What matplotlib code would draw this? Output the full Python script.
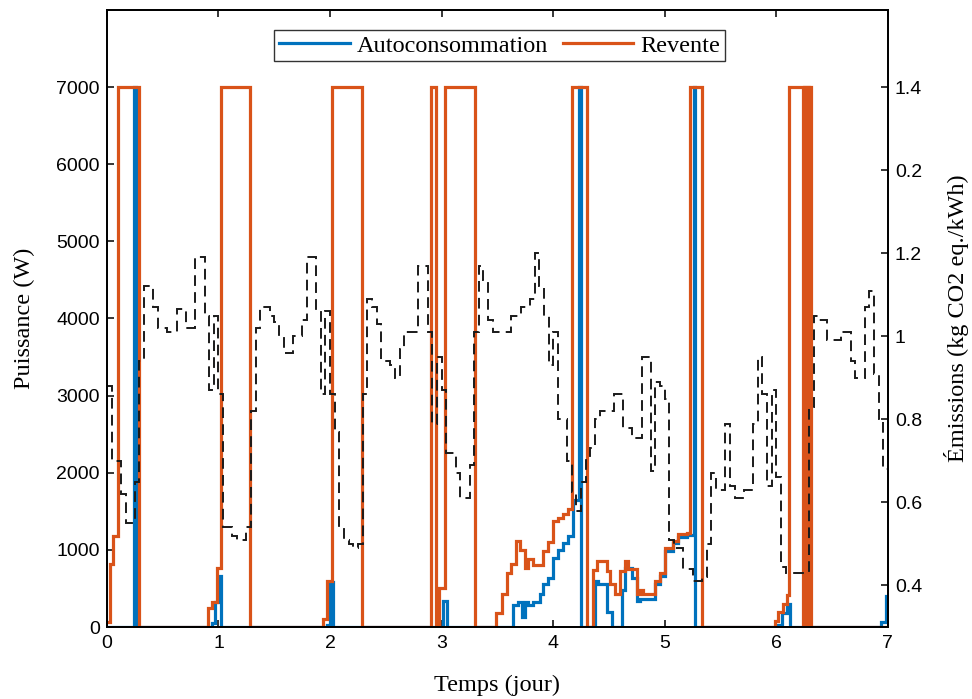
import matplotlib
matplotlib.use('Agg')
import matplotlib.pyplot as plt
from matplotlib.lines import Line2D
import numpy as np

# ---------------- data ----------------
# Hourly CO2 emission factor (kg CO2 eq./kWh), 7 days x 24 h
emis_day0 = [0.88, 0.70, 0.70, 0.62, 0.55, 0.55, 0.65, 0.94, 1.12, 1.12, 1.07, 1.02,
             1.02, 1.01, 1.01, 1.065, 1.065, 1.02, 1.02, 1.19, 1.19, 1.05, 0.87, 1.05]
emis_day1 = [0.86, 0.54, 0.54, 0.52, 0.51, 0.51, 0.54, 0.82, 1.02, 1.07, 1.07, 1.05,
             1.035, 1.00, 0.96, 0.96, 1.00, 1.00, 1.04, 1.19, 1.19, 1.06, 0.86, 1.06]
emis_day2 = [0.86, 0.77, 0.54, 0.51, 0.50, 0.49, 0.50, 0.86, 1.09, 1.07, 1.03, 0.94,
             0.94, 0.93, 0.90, 0.97, 1.01, 1.01, 1.01, 1.17, 1.17, 1.01, 0.79, 0.95]
emis_day3 = [0.87, 0.72, 0.72, 0.67, 0.61, 0.61, 0.69, 1.01, 1.17, 1.135, 1.04, 1.01,
             1.01, 1.01, 1.01, 1.05, 1.05, 1.07, 1.07, 1.09, 1.20, 1.12, 1.05, 0.93]
emis_day4 = [1.01, 0.80, 0.80, 0.70, 0.625, 0.58, 0.65, 0.71, 0.73, 0.80, 0.82, 0.82,
             0.82, 0.86, 0.86, 0.78, 0.78, 0.755, 0.755, 0.95, 0.95, 0.675, 0.89, 0.88]
emis_day5 = [0.85, 0.51, 0.49, 0.49, 0.44, 0.44, 0.41, 0.41, 0.42, 0.50, 0.67, 0.63,
             0.63, 0.79, 0.64, 0.61, 0.61, 0.63, 0.63, 0.79, 0.95, 0.86, 0.64, 0.87]
emis_day6 = [0.66, 0.445, 0.43, 0.43, 0.43, 0.43, 0.43, 0.83, 1.05, 1.04, 1.04, 0.99,
             0.99, 0.99, 1.01, 1.01, 0.94, 0.90, 0.90, 1.07, 1.11, 0.91, 0.80, 0.68]
emissions = (emis_day0 + emis_day1 + emis_day2 + emis_day3 +
             emis_day4 + emis_day5 + emis_day6)

# Revente (W): step changes, time in hours
rev_hours = [0, 0.6, 1.4, 2.4, 6.95, 21.66, 22.5, 23.6, 24.45, 30.8,
             46.5, 47.3, 48.5, 54.9, 69.8, 70.7, 71.4, 72.7, 79.2,
             83.8, 84.9, 86.0, 86.9, 87.9, 88.8, 89.9, 90.6, 91.6, 93.8, 94.9,
             96.0, 97.0, 98.1, 99.2, 100.0, 103.2,
             104.6, 105.4, 107.5, 108.2, 109.3, 110.3, 111.4, 112.1, 114.0, 114.6,
             115.3, 117.9, 119.0, 120.0, 121.7, 122.8, 124.7, 125.4, 127.9,
             143.7, 144.4, 145.5, 146.2, 146.8,
             149.8, 150.0, 150.2, 150.4, 150.6, 150.8, 151.0, 151.2, 151.4, 168.0]
rev_watts = [60, 820, 1180, 7000, 0, 240, 330, 760, 7000, 0,
             110, 600, 7000, 0, 7000, 0, 500, 7000, 0,
             180, 430, 700, 820, 1110, 1000, 760, 880, 800, 980, 1100,
             1370, 1410, 1460, 1530, 7000, 0,
             740, 850, 720, 560, 430, 720, 850, 750, 430, 480,
             430, 600, 700, 1020, 1120, 1200, 1220, 7000, 0,
             80, 200, 300, 420, 7000,
             0, 7000, 0, 7000, 0, 7000, 0, 7000, 0, 0]

# Autoconsommation (W): step changes, time in hours
auto_hours = [0, 5.75, 6.15, 22.5, 23.3, 23.9, 24.6,
              47.3, 47.9, 48.7, 72.4, 73.2,
              87.4, 88.4, 89.3, 89.9, 90.6, 91.6, 93.1, 93.8, 94.9, 96.0, 97.0, 98.1,
              99.2, 100.3, 101.55, 101.95,
              105.0, 105.6, 107.5, 108.6, 110.8, 111.4, 112.9, 114.0, 114.6, 117.9,
              119.0, 120.0, 121.7, 122.8, 124.7, 126.2, 126.6,
              144.2, 145.3, 146.2, 146.9, 166.5, 167.6, 168.0]
auto_watts = [0, 7000, 0, 50, 320, 660, 0,
              30, 580, 0, 340, 0,
              280, 330, 130, 320, 280, 320, 430, 560, 640, 900, 1000, 1090,
              1180, 1650, 7000, 0,
              600, 560, 200, 0, 480, 760, 640, 340, 360, 560,
              660, 980, 1090, 1170, 1190, 7000, 0,
              30, 180, 300, 0, 60, 400, 400]

day_ticks = [0, 1, 2, 3, 4, 5, 6, 7]
power_ticks = [0, 1000, 2000, 3000, 4000, 5000, 6000, 7000]
emis_ticks = [0.4, 0.6, 0.8, 1.0, 1.2, 1.4, 1.6]
emis_tick_labels = ['0.4', '0.6', '0.8', '1', '1.2', '0.2', '1.4']

# ---------------- plot ----------------
BLUE = '#0072BD'
ORANGE = '#D95319'
SERIF = ['Liberation Serif', 'DejaVu Serif']
SANS = ['Liberation Sans', 'DejaVu Sans']

fig = plt.figure(figsize=(9.72, 6.99), dpi=100)
ax = fig.add_axes([0.110, 0.103, 0.8035, 0.8827])
ax2 = ax.twinx()

t_auto = np.array(auto_hours) / 24.0
t_rev = np.array(rev_hours) / 24.0
ax.step(t_auto, auto_watts, where='post', color=BLUE, lw=2.3, solid_joinstyle='miter')
ax.step(t_rev, rev_watts, where='post', color=ORANGE, lw=2.3, solid_joinstyle='miter')

edges = np.arange(len(emissions) + 1) / 24.0
ax2.stairs(emissions, edges, color='#1a1a1a', lw=1.4, linestyle=(0, (5.5, 3.2)),
           baseline=None)

ax.set_xlim(0, 7)
ax.set_ylim(0, 8000)
ax2.set_ylim(0.3, 0.3 + 8000 * 1.3 / 7000)

ax.set_xticks(day_ticks)
ax.set_xticklabels([str(d) for d in day_ticks], family=SANS, fontsize=14)
ax.set_yticks(power_ticks)
ax.set_yticklabels([str(p) for p in power_ticks], family=SANS, fontsize=14)
ax2.set_yticks(emis_ticks)
ax2.set_yticklabels(emis_tick_labels, family=SANS, fontsize=14)

ax.tick_params(axis='x', direction='in', length=5, width=1.1, top=True, pad=6)
ax.tick_params(axis='y', direction='in', length=5, width=1.1, right=False, pad=5)
ax2.tick_params(axis='y', direction='in', length=5, width=1.1, pad=5)
for a in (ax, ax2):
    for s in a.spines.values():
        s.set_linewidth(1.3)
        s.set_color('black')

ax.set_xlabel('Temps (jour)', family=SERIF, fontsize=17.5, labelpad=16)
ax.set_ylabel('Puissance (W)', family=SERIF, fontsize=17.5, labelpad=15)
ax2.set_ylabel('Émissions (kg CO2 eq./kWh)', family=SERIF, fontsize=17.5, labelpad=16)

handles = [Line2D([], [], color=BLUE, lw=2.3), Line2D([], [], color=ORANGE, lw=2.3)]
leg = ax2.legend(handles, ['Autoconsommation', 'Revente'], loc='upper center',
                 bbox_to_anchor=(0.503, 0.968), ncol=2, frameon=True, fancybox=False,
                 prop={'family': SERIF, 'size': 17.5}, handlelength=2.9,
                 columnspacing=0.6, handletextpad=0.3, borderpad=0.2,
                 borderaxespad=0)
leg.get_frame().set_edgecolor('#333333')
leg.get_frame().set_linewidth(1.0)
leg.get_frame().set_alpha(1)

fig.savefig('out.png', dpi=100)
